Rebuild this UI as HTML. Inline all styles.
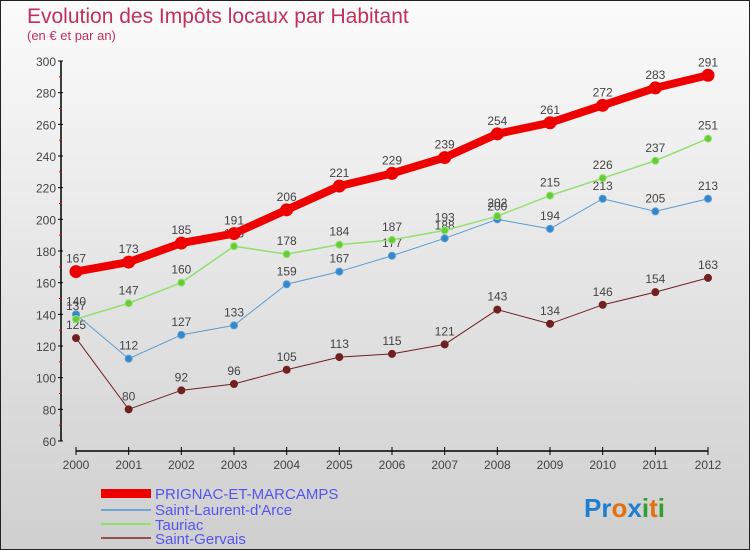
<!DOCTYPE html>
<html><head><meta charset="utf-8"><style>
html,body{margin:0;padding:0}
body{width:750px;height:550px;overflow:hidden;font-family:"Liberation Sans",sans-serif}
#wrap{position:relative;width:748px;height:548px;border:1px solid #222;background:linear-gradient(#fbfbfb,#cfcfcf)}
</style></head><body>
<div id="wrap">
<svg id="chart" width="748" height="548" style="position:absolute;left:0;top:0">
<text x="26" y="22" font-size="21" fill="#c0305a">Evolution des Impôts locaux par Habitant</text>
<text x="26" y="39" font-size="13" fill="#c0305a">(en € et par an)</text>
<g id="axes"></g><g id="series"></g>
<g>
<rect x="100" y="488" width="50" height="9" fill="#e00"/>
<text x="154" y="498" font-size="15" fill="#5555ee">PRIGNAC-ET-MARCAMPS</text>
<rect x="100" y="508" width="50" height="2" fill="#6fa6d0"/>
<text x="154" y="514" font-size="15" fill="#5555ee">Saint-Laurent-d'Arce</text>
<rect x="100" y="522" width="50" height="2" fill="#90e070"/>
<text x="154" y="529" font-size="15" fill="#5555ee">Tauriac</text>
<rect x="100" y="536" width="50" height="2" fill="#905050"/>
<text x="154" y="543" font-size="15" fill="#5555ee">Saint-Gervais</text>
</g>
<text x="583" y="516" font-size="26" font-weight="bold"><tspan fill="#1e7fd0">Pr</tspan><tspan fill="#e07010">o</tspan><tspan fill="#1e7fd0">x</tspan><tspan fill="#30a030">i</tspan><tspan fill="#e07010">t</tspan><tspan fill="#30a030">i</tspan></text>
</svg>
</div>
<script>
const years=[2000,2001,2002,2003,2004,2005,2006,2007,2008,2009,2010,2011,2012];
const prignac=[167,173,185,191,206,221,229,239,254,261,272,283,291];
const saintLaurent=[140,112,127,133,159,167,177,188,200,194,213,205,213];
const tauriac=[137,147,160,183,178,184,187,193,202,215,226,237,251];
const saintGervais=[125,80,92,96,105,113,115,121,143,134,146,154,163];
const yTicks=[60,80,100,120,140,160,180,200,220,240,260,280,300];
const NS="http://www.w3.org/2000/svg";
const x=i=>75+i*(632/12);
const y=v=>440-(v-60)*380/240;
function mk(tag,attrs,parent){const e=document.createElementNS(NS,tag);for(const k in attrs)e.setAttribute(k,attrs[k]);parent.appendChild(e);return e;}
const axes=document.getElementById('axes');
let el=mk('line',{x1:60,y1:60,x2:60,y2:440,stroke:'#000','stroke-width':1.5},axes);


el=mk('line',{x1:75,y1:450,x2:707,y2:450,stroke:'#000','stroke-width':1.5},axes);


yTicks.forEach((t,i)=>{
  mk('line',{x1:57,y1:y(t),x2:62,y2:y(t),stroke:'#000'},axes);
  if(i<yTicks.length-1)mk('line',{x1:58,y1:y(t+10),x2:61,y2:y(t+10),stroke:'#e00'},axes);
  const tx=mk('text',{x:55,y:y(t)+5,'font-size':12,fill:'#444','text-anchor':'end'},axes);
  tx.textContent=t;
  
  
});
years.forEach((yr,i)=>{
  mk('line',{x1:x(i),y1:446,x2:x(i),y2:454,stroke:'#000'},axes);
  const tx=mk('text',{x:x(i),y:468,'font-size':12,fill:'#444','text-anchor':'middle'},axes);
  tx.textContent=yr;
  
  
});
const ser=document.getElementById('series');
function draw(data,color,dot,w,r,name){
  const g=mk('g',{},ser);
  
  
  const pl=mk('polyline',{points:data.map((v,i)=>x(i)+','+y(v)).join(' '),fill:'none',stroke:color,'stroke-width':w,'stroke-linejoin':'round'},g);
  
  
  data.forEach((v,i)=>{
    const c=mk('circle',{cx:x(i),cy:y(v),r:r,fill:dot,stroke:color,'stroke-width':1},g);
    
    
    const t=mk('text',{x:x(i),y:y(v)-9,'font-size':12,fill:'#444','text-anchor':'middle'},g);
    t.textContent=v;
    
    
  });
}
draw(saintGervais,'#702020','#702020',1,3.5,'saint-gervais');
draw(saintLaurent,'#5a9ad0','#3388cc',1,3.5,'saint-laurent');
draw(tauriac,'#90e070','#66cc33',1.5,3.5,'tauriac');
draw(prignac,'#ee0000','#ee0000',8,6,'prignac');
</script>
</body></html>
